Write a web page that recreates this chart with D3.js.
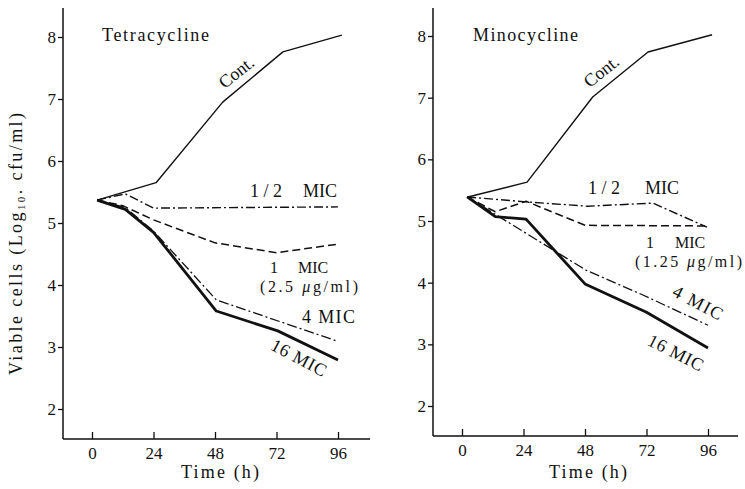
<!DOCTYPE html>
<html>
<head>
<meta charset="utf-8">
<script src="https://cdn.jsdelivr.net/npm/d3@7"></script>
<style>
  body { margin: 0; background: #fff; }
  svg text { font-family: "Liberation Serif", "Times New Roman", Times, serif; fill: #111; }
</style>
</head>
<body>
<svg id="chart" width="745" height="489"></svg>
<script>
// time points (h) and log10 cfu/ml
// Tetracycline
const tetContT = [2, 25, 51, 74.5, 97.5];
const tetContV = [5.37, 5.65, 6.95, 7.76, 8.03];
const tetHalfT = [2, 13, 24, 96];
const tetHalfV = [5.37, 5.47, 5.24, 5.26];
const tetOneT = [2, 12, 24, 48, 72, 96];
const tetOneV = [5.37, 5.28, 5.05, 4.68, 4.52, 4.66];
const tetFourT = [2, 13, 24, 48.5, 96];
const tetFourV = [5.37, 5.25, 4.87, 3.76, 3.09];
const tetSixteenT = [2, 13, 24, 48.5, 72.5, 96];
const tetSixteenV = [5.37, 5.22, 4.85, 3.58, 3.26, 2.79];

// Minocycline
const minContT = [2.3, 25.4, 51, 72.6, 97.6];
const minContV = [5.39, 5.63, 7.01, 7.74, 8.02];
const minHalfT = [2, 25, 49, 74.5, 95.6];
const minHalfV = [5.39, 5.31, 5.24, 5.29, 4.9];
const minOneT = [2, 13, 25, 48, 95.6];
const minOneV = [5.39, 5.15, 5.32, 4.93, 4.92];
const minFourT = [2, 48.5, 70.6, 96];
const minFourV = [5.39, 4.2, 3.8, 3.31];
const minSixteenT = [2, 13, 25, 48, 72, 96];
const minSixteenV = [5.39, 5.07, 5.03, 3.98, 3.52, 2.94];

const xTicks = [0, 24, 48, 72, 96];
const yTicks = [2, 3, 4, 5, 6, 7, 8];

const svg = d3.select("svg#chart");

// line styles per series
const styles = {
  cont: { w: 1.4, dash: null },
  half: { w: 1.4, dash: "9,3,2,3" },
  one: { w: 1.5, dash: "8,4" },
  four: { w: 1.3, dash: "10,3,2,3" },
  sixteen: { w: 2.8, dash: null }
};

function zip(ts, vs) {
  return ts.map((t, i) => ({ t: t, v: vs[i] }));
}

function drawPanel(p) {
  const g = svg.append("g");

  const x = d3.scaleLinear().domain([0, 96]).range([p.x0, p.x0 + 246]);
  const y = d3.scaleLinear().domain([2, 8]).range([p.y2, p.y8]);

  const left = x.range()[0] - 29;
  const right = x.range()[1] + p.xEnd;
  const bottom = y(2) + 30;

  // y axis
  const yAxis = d3.axisLeft(y).tickValues(yTicks).tickFormat(d3.format("d"))
    .tickSize(5).tickPadding(2).tickSizeOuter(0);
  const ya = g.append("g").attr("transform", "translate(" + left + ",0)").call(yAxis);
  ya.attr("font-family", null);
  ya.select(".domain").remove();
  ya.selectAll("line").attr("stroke", "#111").attr("stroke-width", 1.3);
  ya.selectAll("text").attr("font-size", 17).attr("fill", "#111");
  g.append("line")
    .attr("x1", left).attr("x2", left)
    .attr("y1", 8).attr("y2", bottom)
    .attr("stroke", "#111").attr("stroke-width", 1.5);

  // x axis, ticks pointing up into the plot
  const xAxis = d3.axisBottom(x).tickValues(xTicks).tickSizeInner(-7).tickSizeOuter(0).tickPadding(8);
  const xa = g.append("g").attr("transform", "translate(0," + bottom + ")").call(xAxis);
  xa.attr("font-family", null);
  xa.select(".domain").remove();
  xa.selectAll("line").attr("stroke", "#111").attr("stroke-width", 1.3);
  xa.selectAll("text").attr("font-size", 17).attr("fill", "#111");
  g.append("line")
    .attr("x1", left).attr("x2", right)
    .attr("y1", bottom).attr("y2", bottom)
    .attr("stroke", "#111").attr("stroke-width", 1.5);

  const line = d3.line().x(d => x(d.t)).y(d => y(d.v));

  p.series.forEach(s => {
    const st = styles[s.key];
    g.append("path")
      .datum(zip(s.t, s.v))
      .attr("d", line)
      .attr("fill", "none")
      .attr("stroke", "#111")
      .attr("stroke-width", st.w)
      .attr("stroke-linejoin", "round")
      .attr("stroke-dasharray", st.dash);
  });

  // title
  g.append("text")
    .attr("x", p.titleX).attr("y", 41)
    .attr("font-size", 18)
    .attr("textLength", p.titleLen).attr("lengthAdjust", "spacing")
    .text(p.title);

  // Time (h)
  g.append("text")
    .attr("x", x(48) + p.timeDx).attr("y", 478)
    .attr("text-anchor", "middle")
    .attr("font-size", 18)
    .attr("textLength", 78).attr("lengthAdjust", "spacing")
    .text("Time (h)");

  // curve labels
  p.labels.forEach(l => {
    const t = g.append("text")
      .attr("font-size", l.size || 18)
      .attr("text-anchor", l.anchor || "start")
      .attr("transform", "translate(" + l.x + "," + l.y + ")" + (l.rot ? " rotate(" + l.rot + ")" : ""));
    if (l.len) t.attr("textLength", l.len).attr("lengthAdjust", "spacing");
    if (l.mu) {
      t.append("tspan").text(l.mu[0]);
      t.append("tspan").attr("font-style", "italic").text("\u03bc");
      t.append("tspan").text(l.mu[1]);
    } else {
      t.text(l.text);
    }
  });

  return { x: x, y: y };
}

drawPanel({
  x0: 92, y2: 409, y8: 37, xEnd: 32,
  title: "Tetracycline", titleX: 102, titleLen: 107, timeDx: 5,
  series: [
    { key: "cont", t: tetContT, v: tetContV },
    { key: "half", t: tetHalfT, v: tetHalfV },
    { key: "one", t: tetOneT, v: tetOneV },
    { key: "four", t: tetFourT, v: tetFourV },
    { key: "sixteen", t: tetSixteenT, v: tetSixteenV }
  ],
  labels: [
    { text: "Cont.", x: 240, y: 77, rot: -38, anchor: "middle" },
    { text: "1 / 2", x: 250, y: 197 },
    { text: "MIC", x: 303, y: 197 },
    { text: "1", x: 270, y: 273, size: 16 },
    { text: "MIC", x: 298, y: 273, size: 16 },
    { mu: ["(2.5 ", "g/ml)"], x: 260, y: 292, len: 98, size: 16 },
    { text: "4 MIC", x: 302, y: 323, len: 53 },
    { text: "16 MIC", x: 296, y: 363, rot: 28, anchor: "middle", len: 60 }
  ]
});

drawPanel({
  x0: 462, y2: 406, y8: 36, xEnd: 30,
  title: "Minocycline", titleX: 473, titleLen: 105, timeDx: 3,
  series: [
    { key: "cont", t: minContT, v: minContV },
    { key: "half", t: minHalfT, v: minHalfV },
    { key: "one", t: minOneT, v: minOneV },
    { key: "four", t: minFourT, v: minFourV },
    { key: "sixteen", t: minSixteenT, v: minSixteenV }
  ],
  labels: [
    { text: "Cont.", x: 605, y: 76, rot: -38, anchor: "middle" },
    { text: "1 / 2", x: 588, y: 194 },
    { text: "MIC", x: 645, y: 194 },
    { text: "1", x: 646, y: 248, size: 16 },
    { text: "MIC", x: 675, y: 248, size: 16 },
    { mu: ["(1.25 ", "g/ml)"], x: 635, y: 267, len: 107, size: 16 },
    { text: "4 MIC", x: 695, y: 308, rot: 28, anchor: "middle", len: 54 },
    { text: "16 MIC", x: 673, y: 358, rot: 27, anchor: "middle", len: 60 }
  ]
});

// y axis title (left panel only)
const yTitle = svg.append("text")
  .attr("transform", "translate(22,244) rotate(-90)")
  .attr("text-anchor", "middle")
  .attr("font-size", 18)
  .attr("textLength", 262).attr("lengthAdjust", "spacing");
yTitle.append("tspan").text("Viable cells (Log");
yTitle.append("tspan").attr("font-size", 11).attr("dy", 3).text("10");
yTitle.append("tspan").attr("dy", -3).text(". cfu/ml)");
</script>
</body>
</html>
